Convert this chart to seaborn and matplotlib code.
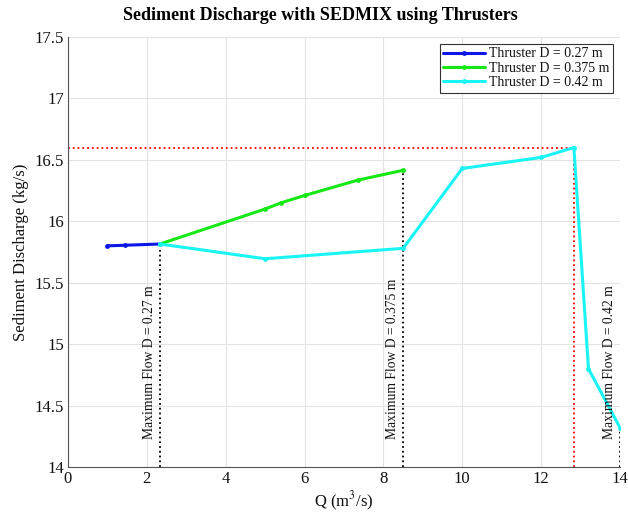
import matplotlib
matplotlib.use("Agg")
import matplotlib.pyplot as plt
import seaborn as sns
import pandas as pd

sns.set_theme(style="whitegrid")
plt.rcParams['font.family'] = ['Liberation Serif', 'DejaVu Serif']
plt.rcParams['mathtext.fontset'] = 'stix'

q_027 = [1.0, 1.45, 2.33]
s_027 = [15.80, 15.805, 15.815]
q_0375 = [2.33, 5.0, 5.4, 6.0, 7.35, 8.5]
s_0375 = [15.815, 16.10, 16.15, 16.21, 16.335, 16.415]
q_042 = [2.33, 5.0, 8.5, 10.0, 12.0, 12.83, 13.2, 14.0]
s_042 = [15.815, 15.695, 15.78, 16.43, 16.52, 16.60, 14.80, 14.32]
labels = ["Thruster D = 0.27 m", "Thruster D = 0.375 m", "Thruster D = 0.42 m"]
colors = ["#0a17e6", "#16e816", "#19f5f5"]
max_flow_q = [2.33, 8.5, 14.0]
max_flow_s = [15.815, 16.415, 14.32]
max_flow_txt = ["Maximum Flow D = 0.27 m", "Maximum Flow D = 0.375 m", "Maximum Flow D = 0.42 m"]
peak_q, peak_s = 12.83, 16.60

df = pd.concat([
    pd.DataFrame({"Q": q, "S": s, "series": lab, "order": range(len(q))})
    for q, s, lab in zip([q_027, q_0375, q_042], [s_027, s_0375, s_042], labels)
])

fig = plt.figure(figsize=(6.28, 5.14), dpi=100)
ax = fig.add_axes([68/628, 1-467/514, (620-68)/628, (467-37)/514])

sns.lineplot(data=df, x="Q", y="S", hue="series", palette=colors, sort=False,
             estimator=None, units="series", marker="o", markersize=3.5,
             markeredgewidth=0, linewidth=2.2, ax=ax, legend=True)

# red reference lines
ax.plot([0, peak_q], [peak_s, peak_s], color="red", linestyle=":", linewidth=1.3, zorder=1)
ax.plot([peak_q, peak_q], [14, peak_s], color="red", linestyle=":", linewidth=1.3, zorder=1)
for xq, ys, t in zip(max_flow_q, max_flow_s, max_flow_txt):
    ax.plot([xq, xq], [14, ys], color="black", linestyle=":", linewidth=1.3, zorder=1)
    ax.text(xq - 0.1, 14.23, t, rotation=90, ha="right", va="bottom", fontsize=9.8, color="#111111")

ax.set_xlim(0, 14)
ax.set_ylim(14, 17.5)
ax.set_xticks(range(0, 15, 2))
ax.set_yticks([14, 14.5, 15, 15.5, 16, 16.5, 17, 17.5])
ax.set_yticklabels(["14", "14.5", "15", "15.5", "16", "16.5", "17", "17.5"])
ax.grid(True, color="#e3e3e3", linewidth=0.8)
for side in ["top", "right"]:
    ax.spines[side].set_visible(False)
for side in ["left", "bottom"]:
    ax.spines[side].set_color("#555555")
    ax.spines[side].set_linewidth(0.8)
ax.tick_params(direction="in", length=4, color="#555555", labelsize=12, pad=3)
ax.tick_params(axis="both", which="both", labelcolor="#111111")
ax.set_xlabel("Q (m$^3$/s)", fontsize=12, color="#111111", labelpad=2)
ax.set_ylabel("Sediment Discharge (kg/s)", fontsize=12, color="#111111", labelpad=4)
fig.text(320/628, 1-15/514, "Sediment Discharge with SEDMIX using Thrusters",
         fontsize=13, fontweight="bold", ha="center", va="center", color="black")

leg = ax.legend(loc="upper right", fontsize=10, frameon=True, fancybox=False,
                edgecolor="#333333", framealpha=1, borderpad=0.25, labelspacing=0.1,
                handlelength=3.0, handletextpad=0.3, borderaxespad=0.5)
leg.get_frame().set_linewidth(0.8)
for t in leg.get_texts():
    t.set_color("#111111")

fig.savefig("out.png", dpi=100)
